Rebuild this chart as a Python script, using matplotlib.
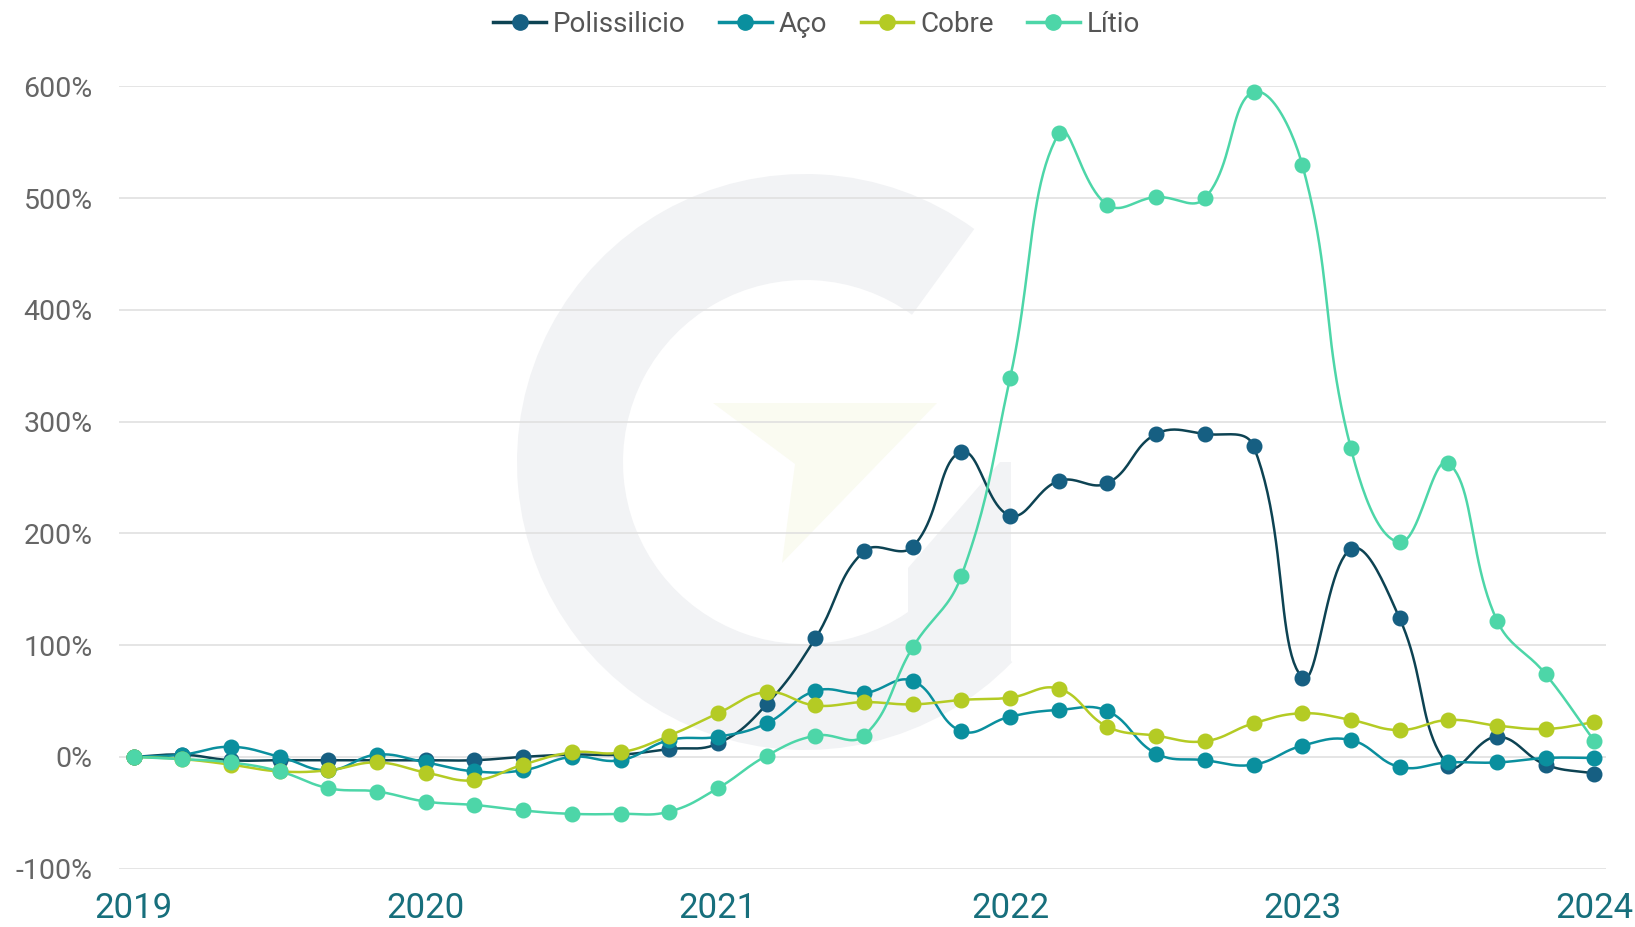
import numpy as np
import matplotlib.pyplot as plt
from matplotlib.patches import Wedge, Polygon
from matplotlib.lines import Line2D

# dados (variação acumulada desde jan/2019, pontos a cada 2 meses)
anos = ['2019', '2020', '2021', '2022', '2023', '2024']
polissilicio = [0, 2, -3, -3, -3, -3, -3, -3, 0, 2, 2, 7, 12, 47, 106, 184, 188,
                273, 216, 247, 245, 289, 289, 278, 71, 186, 124, -8, 18, -7, -15]
aco = [0, 2, 9, 0, -12, 2, -5, -13, -12, 0, -3, 15, 18, 30, 59, 57, 68,
       23, 36, 42, 41, 3, -3, -7, 10, 15, -9, -5, -5, -1, -1]
cobre = [0, -2, -7, -13, -12, -5, -14, -21, -7, 4, 4, 19, 39, 58, 46, 49, 47,
         51, 53, 61, 27, 19, 14, 30, 39, 33, 24, 33, 28, 25, 31]
litio = [0, -2, -5, -13, -28, -31, -40, -43, -48, -51, -51, -49, -28, 1, 19, 19, 98,
         162, 339, 558, 494, 501, 500, 595, 530, 276, 192, 263, 122, 74, 14]

series = [
    ('Polissilicio', polissilicio, '#0d4353', '#165f82'),
    ('Aço', aco, '#0a8f9e', '#0a8f9e'),
    ('Cobre', cobre, '#b4cb24', '#b4cb24'),
    ('Lítio', litio, '#4dd6a8', '#4dd6a8'),
]

PX_X = 48.7   # pixels por ponto
PX_Y = 1.117  # pixels por 1%


def suavizar(y, tensao=0.42, n=24):
    """curva tipo spline (cardinal) calculada em pixels"""
    x = np.arange(len(y), dtype=float)
    p = np.column_stack([x * PX_X, np.asarray(y, float) * PX_Y])
    cp_ant = p.copy()
    cp_prox = p.copy()
    for i in range(len(p)):
        a = p[i - 1] if i > 0 else p[i]
        b = p[i + 1] if i < len(p) - 1 else p[i]
        d01 = np.hypot(*(p[i] - a))
        d12 = np.hypot(*(b - p[i]))
        tot = d01 + d12
        if tot == 0:
            continue
        cp_ant[i] = p[i] - tensao * d01 / tot * (b - a)
        cp_prox[i] = p[i] + tensao * d12 / tot * (b - a)
    t = np.linspace(0, 1, n)[:, None]
    pts = [p[:1]]
    for i in range(len(p) - 1):
        p0, p1, p2, p3 = p[i], cp_prox[i], cp_ant[i + 1], p[i + 1]
        seg = ((1 - t) ** 3) * p0 + 3 * ((1 - t) ** 2) * t * p1 + 3 * (1 - t) * t ** 2 * p2 + t ** 3 * p3
        pts.append(seg[1:])
    pts = np.vstack(pts)
    return pts[:, 0] / PX_X, pts[:, 1] / PX_Y


fig = plt.figure(figsize=(16.35, 9.27), dpi=100)

# marca d'água ao fundo (coordenadas em pixels da figura, y para baixo)
bg = fig.add_axes([0, 0, 1, 1], zorder=0)
bg.set_xlim(0, 1635)
bg.set_ylim(927, 0)
bg.axis('off')
cinza = '#f2f3f5'
bg.add_patch(Wedge((805, 462), 288, 44, 306, width=106, facecolor=cinza, edgecolor='none'))
bg.add_patch(Polygon([(908, 568), (1000, 462), (1011, 462), (1011, 663), (908, 663)],
                     closed=True, facecolor=cinza, edgecolor='none', joinstyle='round'))
bg.add_patch(Polygon([(713, 403), (937, 403), (782, 563), (795, 464)],
                     closed=True, facecolor='#fafbf1', edgecolor='none'))

ax = fig.add_axes([0.0728, 0.0630, 0.9095, 0.8437], zorder=1)
ax.patch.set_alpha(0)

x = np.arange(len(litio))
for nome, vals, cor_linha, cor_marca in series:
    xs, ys = suavizar(vals)
    ax.plot(xs, ys, color=cor_linha, lw=1.8, zorder=3, clip_on=False)
    ax.plot(x, vals, 'o', color=cor_marca, ms=10.5, zorder=4, clip_on=False)

ax.set_xlim(-0.30, 30.24)
ax.set_ylim(-100, 600)
ax.set_yticks(range(-100, 601, 100))
ax.set_yticklabels([f'{v}%' for v in range(-100, 601, 100)])
ax.set_xticks(range(0, 31, 6))
ax.set_xticklabels(anos)
ax.grid(axis='y', color='#e0e0e0', lw=1.2, zorder=1)
ax.grid(axis='x', visible=False)
for s in ax.spines.values():
    s.set_visible(False)
ax.tick_params(axis='y', length=0, pad=19, labelsize=20.5, labelcolor='#666666')
ax.tick_params(axis='x', length=0, pad=17, labelsize=25, labelcolor='#176f7c')
for lab in ax.get_yticklabels() + ax.get_xticklabels():
    lab.set_family('Roboto')

handles = [Line2D([0], [0], color=cl, lw=2.5, marker='o', ms=11, markerfacecolor=cm,
                  markeredgecolor=cm) for _, _, cl, cm in series]
leg = fig.legend(handles, [s[0] for s in series], loc='center', bbox_to_anchor=(0.4995, 0.974),
                 ncol=4, frameon=False, handlelength=1.9, handletextpad=0.25, columnspacing=1.2,
                 prop={'family': 'Roboto', 'size': 20})
for txt in leg.get_texts():
    txt.set_color('#555555')

fig.savefig('out.png', dpi=100)
